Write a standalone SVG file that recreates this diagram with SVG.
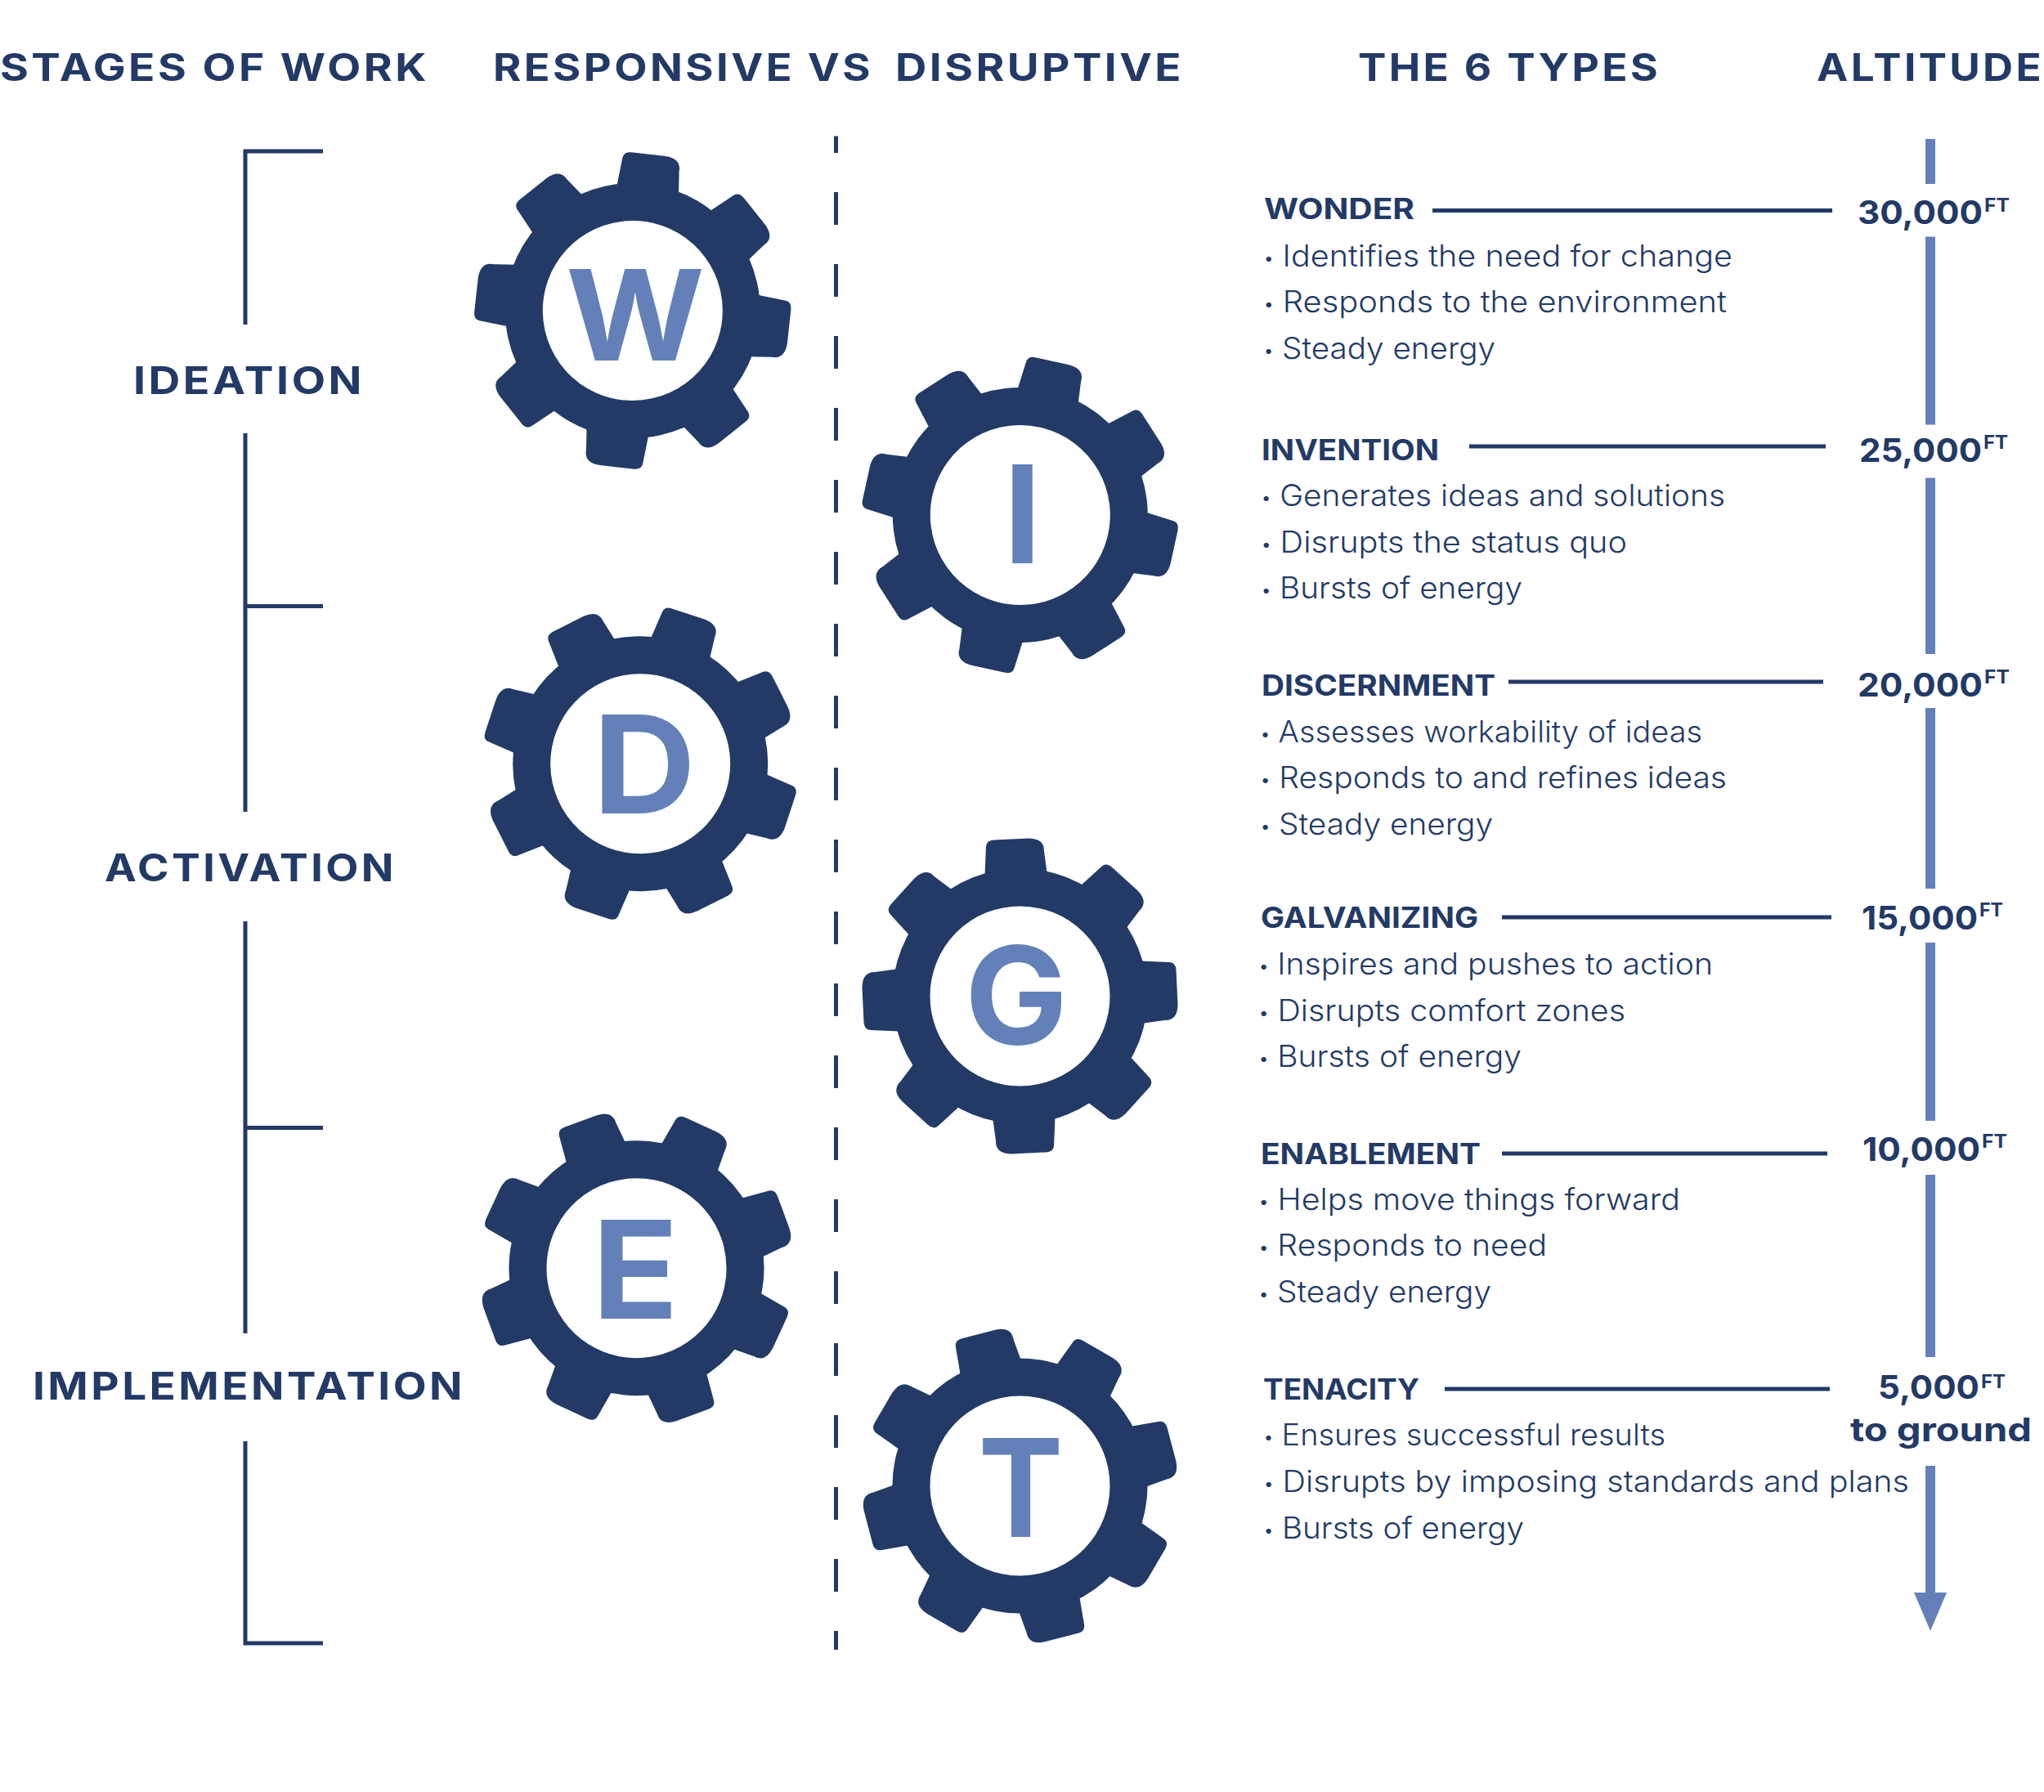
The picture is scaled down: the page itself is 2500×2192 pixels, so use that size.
<svg xmlns="http://www.w3.org/2000/svg" xmlns:xlink="http://www.w3.org/1999/xlink" width="2500" height="2192" viewBox="0 0 2500 2192">
<style>
text{font-family:"Inter","Noto Sans","Liberation Sans",sans-serif;fill:#233A66}
.h{font-size:46px;font-weight:700;letter-spacing:3px}
.t{font-size:35px;font-weight:700}
.b{font-size:37px;font-weight:300}
.d{font-size:19px;font-weight:400}
.a{font-size:40px;font-weight:700}
.f{font-size:23px;font-weight:700}
.l{font-size:166px;font-weight:700;fill:#6381B8}
.br{stroke:#233A66;stroke-width:5;fill:none}
.ln{stroke:#233A66;stroke-width:5}
.al{stroke:#6381B8;stroke-width:12}
</style>
<defs>
<path id="tooth" d="M-43,-148L-41.5,-183Q-41,-190.5-32,-191L10,-193Q30,-193 29.5,-177L33.5,-148Z" fill="#233A66"/>
<g id="gear">
<use xlink:href="#tooth"/><use xlink:href="#tooth" transform="rotate(45)"/><use xlink:href="#tooth" transform="rotate(90)"/><use xlink:href="#tooth" transform="rotate(135)"/><use xlink:href="#tooth" transform="rotate(180)"/><use xlink:href="#tooth" transform="rotate(225)"/><use xlink:href="#tooth" transform="rotate(270)"/><use xlink:href="#tooth" transform="rotate(315)"/>
<circle r="133" fill="#fff" stroke="#233A66" stroke-width="46"/>
</g>
</defs>
<rect width="2500" height="2192" fill="#fff"/>

<g id="headings">
<text class="h" x="0" y="99" textLength="525" lengthAdjust="spacingAndGlyphs">STAGES OF WORK</text>
<text class="h" x="603" y="99" textLength="465" lengthAdjust="spacingAndGlyphs">RESPONSIVE VS</text>
<text class="h" x="1095" y="99" textLength="353" lengthAdjust="spacingAndGlyphs">DISRUPTIVE</text>
<text class="h" x="1661" y="99" textLength="370" lengthAdjust="spacingAndGlyphs">THE 6 TYPES</text>
<text class="h" x="2222" y="99" textLength="278" lengthAdjust="spacingAndGlyphs">ALTITUDE</text>
</g>

<g id="connectors">
<path class="br" d="M395,185H300V397"/>
<path class="br" d="M300,530V993M300,741.5H395"/>
<path class="br" d="M300,1127V1631M300,1379.5H395"/>
<path class="br" d="M300,1763V2010H395"/>
<path d="M1022.5,166.5V2018" stroke="#233A66" stroke-width="5" fill="none" stroke-dasharray="40 48" stroke-dashoffset="19.5"/>
<path class="al" d="M2361,170V225M2361,289.5V519.6M2361,584.4V800M2361,866V1087M2361,1153V1371M2361,1437V1660M2361,1793V1950"/>
<path d="M2341,1948H2381L2361,1995Z" fill="#6381B8"/>
<path class="ln" d="M1752,257.5H2241M1797,546H2233M1845,834H2230M1837,1122H2240M1837,1411H2235M1767,1699H2238"/>
</g>

<g id="stage-ideation"><text class="h" x="163" y="482" textLength="283" lengthAdjust="spacingAndGlyphs">IDEATION</text></g>
<g id="stage-activation"><text class="h" x="128" y="1078" textLength="357" lengthAdjust="spacingAndGlyphs">ACTIVATION</text></g>
<g id="stage-implementation"><text class="h" x="40" y="1712" textLength="529" lengthAdjust="spacingAndGlyphs">IMPLEMENTATION</text></g>

<g id="gear-w"><use xlink:href="#gear" transform="translate(773.8,380) rotate(9)"/><text class="l" style="font-size:154px" x="692" y="441" textLength="170" lengthAdjust="spacingAndGlyphs">W</text></g>
<g id="gear-i"><use xlink:href="#gear" transform="translate(1247.8,630) rotate(15)"/><text class="l" x="1227.5" y="689" textLength="46" lengthAdjust="spacingAndGlyphs">I</text></g>
<g id="gear-d"><use xlink:href="#gear" transform="translate(783.2,934.2) rotate(21)"/><text class="l" x="725" y="995" textLength="126" lengthAdjust="spacingAndGlyphs">D</text></g>
<g id="gear-g"><use xlink:href="#gear" transform="translate(1247.5,1218.4)"/><text class="l" x="1180" y="1277" textLength="126" lengthAdjust="spacingAndGlyphs">G</text></g>
<g id="gear-e"><use xlink:href="#gear" transform="translate(778.5,1551.2) rotate(27.5)"/><text class="l" x="724" y="1612.8" textLength="106" lengthAdjust="spacingAndGlyphs">E</text></g>
<g id="gear-t"><use xlink:href="#gear" transform="translate(1247.5,1817.5) rotate(33)"/><text class="l" x="1196.5" y="1880" textLength="104" lengthAdjust="spacingAndGlyphs">T</text></g>

<g id="type-wonder">
<text class="t" x="1546" y="268" textLength="184" lengthAdjust="spacingAndGlyphs">WONDER</text>
<text class="b" x="1546" y="326" textLength="573" lengthAdjust="spacingAndGlyphs"><tspan class="d" dy="-3">•</tspan><tspan dy="3"> Identifies the need for change</tspan></text>
<text class="b" x="1546" y="382" textLength="566" lengthAdjust="spacingAndGlyphs"><tspan class="d" dy="-3">•</tspan><tspan dy="3"> Responds to the environment</tspan></text>
<text class="b" x="1546" y="439" textLength="283" lengthAdjust="spacingAndGlyphs"><tspan class="d" dy="-3">•</tspan><tspan dy="3"> Steady energy</tspan></text>
<text class="a" x="2272" y="274" textLength="153" lengthAdjust="spacingAndGlyphs">30,000</text><text class="f" x="2427" y="259" textLength="31" lengthAdjust="spacingAndGlyphs">FT</text>
</g>
<g id="type-invention">
<text class="t" x="1543" y="563" textLength="217" lengthAdjust="spacingAndGlyphs">INVENTION</text>
<text class="b" x="1543" y="619" textLength="567" lengthAdjust="spacingAndGlyphs"><tspan class="d" dy="-3">•</tspan><tspan dy="3"> Generates ideas and solutions</tspan></text>
<text class="b" x="1543" y="676" textLength="447" lengthAdjust="spacingAndGlyphs"><tspan class="d" dy="-3">•</tspan><tspan dy="3"> Disrupts the status quo</tspan></text>
<text class="b" x="1543" y="732" textLength="319" lengthAdjust="spacingAndGlyphs"><tspan class="d" dy="-3">•</tspan><tspan dy="3"> Bursts of energy</tspan></text>
<text class="a" x="2274" y="565" textLength="150" lengthAdjust="spacingAndGlyphs">25,000</text><text class="f" x="2426" y="549" textLength="30" lengthAdjust="spacingAndGlyphs">FT</text>
</g>
<g id="type-discernment">
<text class="t" x="1543" y="851" textLength="286" lengthAdjust="spacingAndGlyphs">DISCERNMENT</text>
<text class="b" x="1542" y="908" textLength="540" lengthAdjust="spacingAndGlyphs"><tspan class="d" dy="-3">•</tspan><tspan dy="3"> Assesses workability of ideas</tspan></text>
<text class="b" x="1542" y="964" textLength="570" lengthAdjust="spacingAndGlyphs"><tspan class="d" dy="-3">•</tspan><tspan dy="3"> Responds to and refines ideas</tspan></text>
<text class="b" x="1542" y="1021" textLength="284" lengthAdjust="spacingAndGlyphs"><tspan class="d" dy="-3">•</tspan><tspan dy="3"> Steady energy</tspan></text>
<text class="a" x="2272" y="852" textLength="153" lengthAdjust="spacingAndGlyphs">20,000</text><text class="f" x="2427" y="836" textLength="31" lengthAdjust="spacingAndGlyphs">FT</text>
</g>
<g id="type-galvanizing">
<text class="t" x="1542" y="1135" textLength="266" lengthAdjust="spacingAndGlyphs">GALVANIZING</text>
<text class="b" x="1540" y="1192" textLength="555" lengthAdjust="spacingAndGlyphs"><tspan class="d" dy="-3">•</tspan><tspan dy="3"> Inspires and pushes to action</tspan></text>
<text class="b" x="1540" y="1249" textLength="448" lengthAdjust="spacingAndGlyphs"><tspan class="d" dy="-3">•</tspan><tspan dy="3"> Disrupts comfort zones</tspan></text>
<text class="b" x="1540" y="1305" textLength="321" lengthAdjust="spacingAndGlyphs"><tspan class="d" dy="-3">•</tspan><tspan dy="3"> Bursts of energy</tspan></text>
<text class="a" x="2277" y="1137" textLength="142" lengthAdjust="spacingAndGlyphs">15,000</text><text class="f" x="2421" y="1121" textLength="29" lengthAdjust="spacingAndGlyphs">FT</text>
</g>
<g id="type-enablement">
<text class="t" x="1542" y="1424" textLength="269" lengthAdjust="spacingAndGlyphs">ENABLEMENT</text>
<text class="b" x="1540" y="1480" textLength="515" lengthAdjust="spacingAndGlyphs"><tspan class="d" dy="-3">•</tspan><tspan dy="3"> Helps move things forward</tspan></text>
<text class="b" x="1540" y="1536" textLength="352" lengthAdjust="spacingAndGlyphs"><tspan class="d" dy="-3">•</tspan><tspan dy="3"> Responds to need</tspan></text>
<text class="b" x="1540" y="1593" textLength="284" lengthAdjust="spacingAndGlyphs"><tspan class="d" dy="-3">•</tspan><tspan dy="3"> Steady energy</tspan></text>
<text class="a" x="2278" y="1420" textLength="144" lengthAdjust="spacingAndGlyphs">10,000</text><text class="f" x="2424" y="1404" textLength="31" lengthAdjust="spacingAndGlyphs">FT</text>
</g>
<g id="type-tenacity">
<text class="t" x="1545" y="1712" textLength="191" lengthAdjust="spacingAndGlyphs">TENACITY</text>
<text class="b" x="1546" y="1768" textLength="491" lengthAdjust="spacingAndGlyphs"><tspan class="d" dy="-3">•</tspan><tspan dy="3"> Ensures successful results</tspan></text>
<text class="b" x="1546" y="1825" textLength="789" lengthAdjust="spacingAndGlyphs"><tspan class="d" dy="-3">•</tspan><tspan dy="3"> Disrupts by imposing standards and plans</tspan></text>
<text class="b" x="1546" y="1882" textLength="318" lengthAdjust="spacingAndGlyphs"><tspan class="d" dy="-3">•</tspan><tspan dy="3"> Bursts of energy</tspan></text>
<text class="a" x="2297" y="1711" textLength="124" lengthAdjust="spacingAndGlyphs">5,000</text><text class="f" x="2423" y="1698" textLength="30" lengthAdjust="spacingAndGlyphs">FT</text>
<text class="a" x="2263" y="1763" font-size="42" textLength="222" lengthAdjust="spacingAndGlyphs">to ground</text>
</g>
</svg>
